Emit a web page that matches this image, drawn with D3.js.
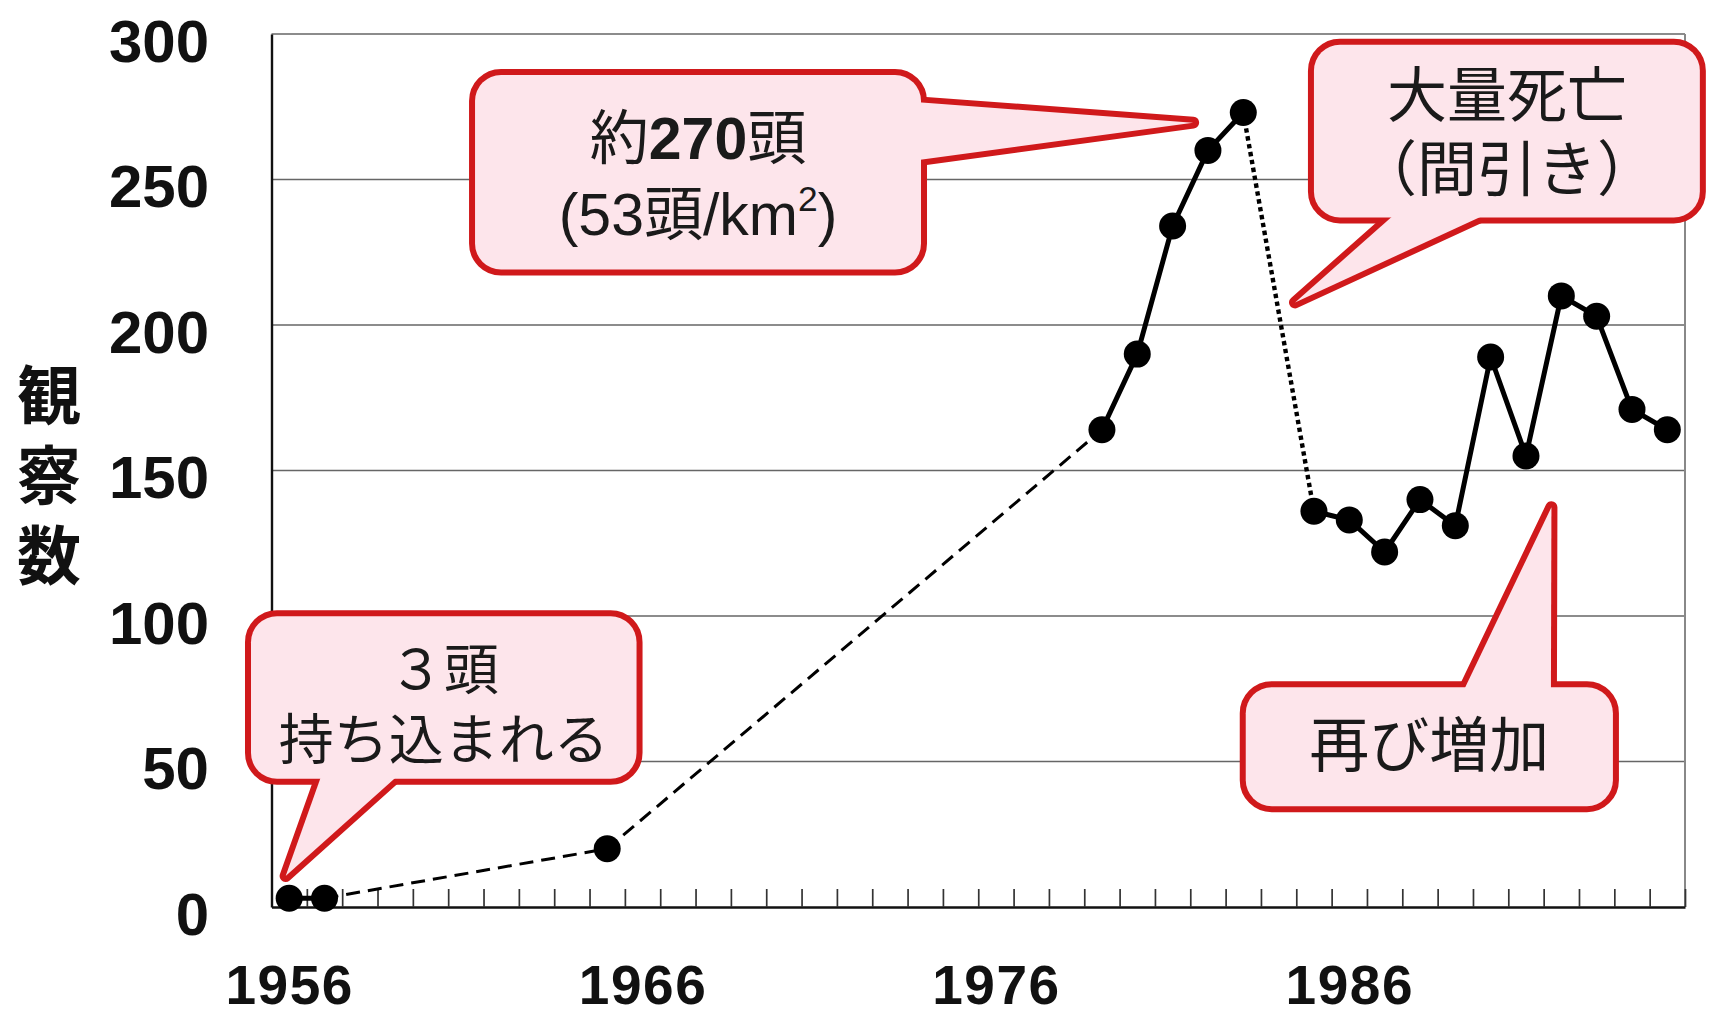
<!DOCTYPE html>
<html><head><meta charset="utf-8">
<script src="https://cdn.jsdelivr.net/npm/d3@7/dist/d3.min.js"></script>
<style>html,body{margin:0;padding:0;background:#fff;} svg{display:block}</style>
</head><body>
<svg id="c" width="1709" height="1018"></svg>
<script>
// ---- data ----
const years  = [1956,1957,1965,1979,1980,1981,1982,1983,1985,1986,1987,1988,1989,1990,1991,1992,1993,1994,1995];
const counts = [3,3,20,164,190,234,260,273,136,133,122,140,131,189,155,210,203,171,164];
const yTicks = [0,50,100,150,200,250,300];
const xLabels = [1956,1966,1976,1986];
const firstYear = 1956, lastYear = 1995;
const yTitle = "観察数";

// ---- layout ----
const W = 1709, H = 1018;
const M = {left:271.5, right:1685, top:34, bottom:907};
const svg = d3.select('#c');
const x = d3.scaleLinear().domain([firstYear-0.5, lastYear+0.5]).range([M.left, M.right]);
const y = d3.scaleLinear().domain([0,300]).range([M.bottom, M.top]);
const NUM = '"Liberation Sans", Arial, sans-serif';
const CJK = '"Liberation Sans", "Noto Sans CJK JP", sans-serif';

// gridlines
svg.append('g').selectAll('line').data(yTicks.filter(v=>v>0)).join('line')
  .attr('x1', M.left).attr('x2', M.right)
  .attr('y1', d=>y(d)).attr('y2', d=>y(d))
  .attr('stroke', '#666').attr('stroke-width', 1.7);
// right border
svg.append('line').attr('x1', M.right).attr('x2', M.right).attr('y1', M.top).attr('y2', M.bottom)
  .attr('stroke', '#888').attr('stroke-width', 2);

// x axis with yearly ticks (upward)
const tickPos = d3.range(firstYear+0.5, lastYear+0.6, 1);
const xAxis = svg.append('g').attr('transform', `translate(0,${M.bottom})`)
  .call(d3.axisBottom(x).tickValues(tickPos).tickSize(-18).tickSizeOuter(0).tickFormat(''));
xAxis.select('.domain').attr('stroke', '#111').attr('stroke-width', 2.4);
xAxis.selectAll('.tick line').attr('stroke', '#333').attr('stroke-width', 1.7);

// x labels
const xLab = svg.append('g').attr('transform', `translate(0,${M.bottom})`)
  .call(d3.axisBottom(x).tickValues(xLabels).tickSize(0).tickFormat(d3.format('d')));
xLab.select('.domain').remove();
xLab.selectAll('text').attr('y', 97).attr('dy', null)
  .attr('font-family', NUM).attr('font-weight', 'bold').attr('font-size', 55)
  .attr('letter-spacing', 1.5).attr('fill', '#111');

// y axis
const yAxis = svg.append('g').attr('transform', `translate(${M.left},0)`)
  .call(d3.axisLeft(y).tickValues(yTicks).tickSize(0).tickSizeOuter(0));
yAxis.select('.domain').attr('stroke', '#111').attr('stroke-width', 2.4);
yAxis.selectAll('text').attr('x', 209 - M.left).attr('dy', null).attr('y', 27)
  .attr('font-family', NUM).attr('font-weight', 'bold').attr('font-size', 60).attr('fill', '#111');

// y title (vertical writing)
const tCenter = (M.top + M.bottom)/2 + 4;
svg.append('text').attr('x', 49).attr('y', tCenter + 8)
  .attr('writing-mode', 'vertical-rl').attr('text-anchor', 'middle')
  .attr('letter-spacing', 16)
  .attr('font-family', '"Noto Sans CJK JP", sans-serif').attr('font-weight', 700)
  .attr('font-size', 64).attr('fill', '#111').text(yTitle);

// ---- line segments ----
const pts = years.map((yr,i)=>({yr, v:counts[i]}));
function segStyle(a,b){
  if (b.yr - a.yr === 1) return 'solid';
  return b.v < a.v ? 'dotted' : 'dashed';
}
const runs = [];
for (let i=0;i<pts.length-1;i++){
  const s = segStyle(pts[i], pts[i+1]);
  const last = runs[runs.length-1];
  if (last && last.style === s && last.pts[last.pts.length-1] === pts[i]) last.pts.push(pts[i+1]);
  else runs.push({style:s, pts:[pts[i], pts[i+1]]});
}
const line = d3.line().x(d=>x(d.yr)).y(d=>y(d.v));
const styleMap = {
  solid:{w:5, dash:null},
  dashed:{w:3, dash:'14,8'},
  dotted:{w:4.4, dash:'4.4,3.6'}
};
svg.append('g').selectAll('path').data(runs).join('path')
  .attr('d', d=>line(d.pts)).attr('fill','none').attr('stroke','#000')
  .attr('stroke-width', d=>styleMap[d.style].w)
  .attr('stroke-dasharray', d=>styleMap[d.style].dash)
  .attr('stroke-linejoin','round');
svg.append('g').selectAll('circle').data(pts).join('circle')
  .attr('cx', d=>x(d.yr)).attr('cy', d=>y(d.v)).attr('r', 13.5).attr('fill', '#000');

// ---- callouts (positions in data units) ----
const callouts = [
  {box:[1954.75,102,1966.0,42], tail:[[1956.6,42],[1959.0,42],[1955.8,9]], size:55,
   lines:[{v:75, segs:[{s:'３頭'}]}, {v:51, segs:[{s:'持ち込まれる'}]}]},
  {box:[1961.09,288,1974.05,217], tail:[[1974.05,277.2],[1974.05,256.2],[1981.75,269.6]], size:59,
   lines:[{v:257, segs:[{s:'約'},{s:'270',b:true},{s:'頭'}]},
          {v:231, segs:[{s:'(53頭/km'},{s:'2',sup:true},{s:')'}]}]},
  {box:[1984.83,298.4,1996.09,234.9], tail:[[1986.8,234.9],[1989.5,234.9],[1984.32,206.7]], size:60,
   lines:[{v:271.5, segs:[{s:'大量死亡'}]}, {v:246, segs:[{s:'（間引き）'}]}]},
  {box:[1982.9,77.6,1993.63,32.6], tail:[[1989.2,77.6],[1991.87,77.6],[1991.76,139.4]], size:60,
   lines:[{v:48, segs:[{s:'再び増加'}]}]}
];
const RED = '#d0191b', PINK = '#fde5eb', BW = 12, inset = BW/2;
callouts.forEach(c=>{
  const g = svg.append('g');
  const bx0 = x(c.box[0])+inset, by0 = y(c.box[1])+inset, bx1 = x(c.box[2])-inset, by1 = y(c.box[3])-inset;
  const b1 = [x(c.tail[0][0]), y(c.tail[0][1])], b2 = [x(c.tail[1][0]), y(c.tail[1][1])];
  let tip = [x(c.tail[2][0]), y(c.tail[2][1])];
  const mid = [(b1[0]+b2[0])/2, (b1[1]+b2[1])/2];
  let dx = mid[0]-tip[0], dy = mid[1]-tip[1]; const L = Math.hypot(dx,dy); dx/=L; dy/=L;
  tip = [tip[0]+dx*inset, tip[1]+dy*inset];
  const poly = [[b1[0]+dx*25, b1[1]+dy*25], [b2[0]+dx*25, b2[1]+dy*25], tip];
  const r = 26;
  [true,false].forEach(stroked=>{
    g.append('rect').attr('x',bx0).attr('y',by0).attr('width',bx1-bx0).attr('height',by1-by0)
      .attr('rx',r).attr('fill',PINK)
      .attr('stroke', stroked?RED:'none').attr('stroke-width', BW);
    g.append('polygon').attr('points', poly.map(p=>p.join(',')).join(' '))
      .attr('fill',PINK).attr('stroke', stroked?RED:'none').attr('stroke-width', BW)
      .attr('stroke-linejoin','round');
  });
  const cx = (x(c.box[0])+x(c.box[2]))/2;
  c.lines.forEach(ln=>{
    const t = g.append('text').attr('x', cx).attr('y', y(ln.v)).attr('text-anchor','middle')
      .attr('font-family', CJK).attr('font-size', c.size).attr('fill', '#1a1a1a');
    let prevSup = false;
    ln.segs.forEach(sg=>{
      const ts = t.append('tspan').text(sg.s);
      if (sg.b) ts.attr('font-weight','bold');
      if (sg.sup) { ts.attr('font-size', c.size*0.6).attr('dy', -c.size*0.4); prevSup = true; }
      else if (prevSup) { ts.attr('dy', c.size*0.4); prevSup = false; }
    });
  });
});
</script>
</body></html>
